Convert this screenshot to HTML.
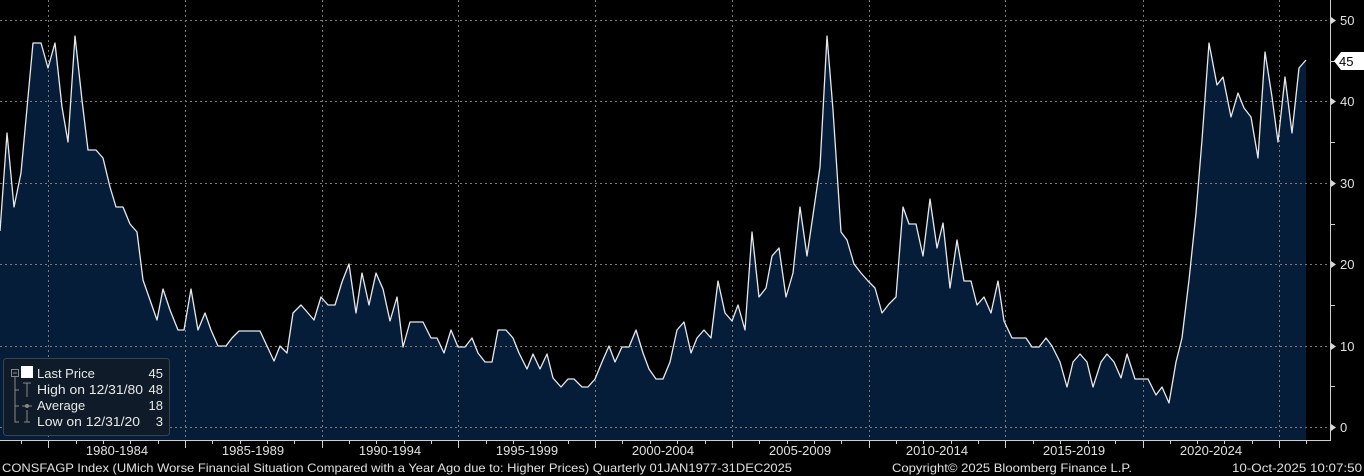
<!DOCTYPE html>
<html><head><meta charset="utf-8"><style>
html,body{margin:0;padding:0;background:#000;width:1364px;height:476px;overflow:hidden}
svg{display:block}
text{font-family:"Liberation Sans","DejaVu Sans",sans-serif}
</style></head><body>
<svg width="1364" height="476" viewBox="0 0 1364 476" xmlns="http://www.w3.org/2000/svg">
<rect width="1364" height="476" fill="#000"/>
<polygon fill="#051d39" points="0,440 0,231 7,133 14,207 21,173 33,43 41,43 48,68 55,43 62,107 68,142 75,36 82,100 88,150 96,150 103,158 110,187 116,207 123,207 130,224 137,232 143,280 150,300 157,320 163,289 170,310 178,330 184,330 191,289 198,330 205,313 211,330 218,346 226,346 232,338 239,331 260,331 267,346 274,361 280,346 287,353 293,313 301,305 308,313 314,320 321,297 328,305 335,305 342,282 349,264 356,313 362,273 369,305 376,273 383,289 390,321 397,297 403,347 410,322 423,322 431,338 437,338 444,353 451,330 458,347 465,347 472,338 478,353 485,362 492,362 498,330 506,330 513,338 519,353 527,369 533,354 540,369 547,354 553,378 561,387 568,379 574,379 582,387 588,387 595,379 602,362 609,346 615,362 622,347 629,347 636,330 643,353 649,369 656,379 663,379 670,362 677,330 684,322 691,353 697,338 704,330 711,338 718,281 725,313 732,321 738,305 745,330 752,232 759,297 766,288 772,256 779,248 786,297 793,273 800,207 807,256 813,215 820,167 827,36 833,110 841,232 847,240 854,264 861,273 868,281 875,288 882,313 889,304 896,297 903,207 909,224 916,224 923,256 930,199 937,248 943,223 950,288 957,240 964,281 971,281 977,305 984,297 991,313 998,281 1004,321 1012,338 1026,338 1032,347 1039,347 1046,338 1052,346 1060,362 1067,387 1073,362 1080,354 1087,362 1093,387 1101,362 1107,354 1114,362 1121,378 1127,354 1135,379 1148,379 1156,395 1162,387 1169,403 1176,362 1182,338 1189,280 1196,213 1202,140 1209,43 1217,85 1223,77 1231,117 1238,93 1244,108 1251,117 1258,158 1265,52 1272,97 1278,142 1285,77 1292,133 1299,68 1306,60 1306,440"/>
<g stroke="#7a7a7a" stroke-width="1" stroke-dasharray="2,3" fill="none">
<line x1="0" y1="20.5" x2="1330" y2="20.5"/><line x1="0" y1="101.5" x2="1330" y2="101.5"/><line x1="0" y1="183.5" x2="1330" y2="183.5"/><line x1="0" y1="264.5" x2="1330" y2="264.5"/><line x1="0" y1="346.5" x2="1330" y2="346.5"/><line x1="0" y1="427.5" x2="1330" y2="427.5"/>
<line x1="48.5" y1="0" x2="48.5" y2="440"/><line x1="185.5" y1="0" x2="185.5" y2="440"/><line x1="322.5" y1="0" x2="322.5" y2="440"/><line x1="458.5" y1="0" x2="458.5" y2="440"/><line x1="595.5" y1="0" x2="595.5" y2="440"/><line x1="732.5" y1="0" x2="732.5" y2="440"/><line x1="869.5" y1="0" x2="869.5" y2="440"/><line x1="1005.5" y1="0" x2="1005.5" y2="440"/><line x1="1143.5" y1="0" x2="1143.5" y2="440"/><line x1="1279.5" y1="0" x2="1279.5" y2="440"/>
</g>
<polyline fill="none" stroke="#e8e8e8" stroke-width="1.3" stroke-linejoin="round" points="0,231 7,133 14,207 21,173 33,43 41,43 48,68 55,43 62,107 68,142 75,36 82,100 88,150 96,150 103,158 110,187 116,207 123,207 130,224 137,232 143,280 150,300 157,320 163,289 170,310 178,330 184,330 191,289 198,330 205,313 211,330 218,346 226,346 232,338 239,331 260,331 267,346 274,361 280,346 287,353 293,313 301,305 308,313 314,320 321,297 328,305 335,305 342,282 349,264 356,313 362,273 369,305 376,273 383,289 390,321 397,297 403,347 410,322 423,322 431,338 437,338 444,353 451,330 458,347 465,347 472,338 478,353 485,362 492,362 498,330 506,330 513,338 519,353 527,369 533,354 540,369 547,354 553,378 561,387 568,379 574,379 582,387 588,387 595,379 602,362 609,346 615,362 622,347 629,347 636,330 643,353 649,369 656,379 663,379 670,362 677,330 684,322 691,353 697,338 704,330 711,338 718,281 725,313 732,321 738,305 745,330 752,232 759,297 766,288 772,256 779,248 786,297 793,273 800,207 807,256 813,215 820,167 827,36 833,110 841,232 847,240 854,264 861,273 868,281 875,288 882,313 889,304 896,297 903,207 909,224 916,224 923,256 930,199 937,248 943,223 950,288 957,240 964,281 971,281 977,305 984,297 991,313 998,281 1004,321 1012,338 1026,338 1032,347 1039,347 1046,338 1052,346 1060,362 1067,387 1073,362 1080,354 1087,362 1093,387 1101,362 1107,354 1114,362 1121,378 1127,354 1135,379 1148,379 1156,395 1162,387 1169,403 1176,362 1182,338 1189,280 1196,213 1202,140 1209,43 1217,85 1223,77 1231,117 1238,93 1244,108 1251,117 1258,158 1265,52 1272,97 1278,142 1285,77 1292,133 1299,68 1306,60"/>
<g stroke="#cfcfcf" stroke-width="1">
<line x1="0" y1="440.5" x2="1331" y2="440.5"/><line x1="1330.5" y1="0" x2="1330.5" y2="441"/>
<path d="M48.5 440V448M185.5 440V448M322.5 440V448M458.5 440V448M595.5 440V448M732.5 440V448M869.5 440V448M1005.5 440V448M1143.5 440V448M1279.5 440V448" />
<path d="M21.5 440V444M76.5 440V444M103.5 440V444M130.5 440V444M158.5 440V444M212.5 440V444M240.5 440V444M267.5 440V444M294.5 440V444M349.5 440V444M376.5 440V444M404.5 440V444M431.5 440V444M486.5 440V444M513.5 440V444M540.5 440V444M568.5 440V444M622.5 440V444M650.5 440V444M677.5 440V444M705.5 440V444M759.5 440V444M787.5 440V444M814.5 440V444M841.5 440V444M896.5 440V444M923.5 440V444M951.5 440V444M978.5 440V444M1033.5 440V444M1060.5 440V444M1088.5 440V444M1115.5 440V444M1170.5 440V444M1197.5 440V444M1224.5 440V444M1252.5 440V444M1306.5 440V444"/>
<path d="M1330 61.5H1335M1330 142.5H1335M1330 224.5H1335M1330 305.5H1335M1330 386.5H1335"/>
</g>
<g fill="#d8d8d8">
<polygon points="1331,17 1336,20.5 1331,24"/><polygon points="1331,98 1336,101.5 1331,105"/><polygon points="1331,180 1336,183.5 1331,187"/><polygon points="1331,261 1336,264.5 1331,268"/><polygon points="1331,343 1336,346.5 1331,350"/><polygon points="1331,424 1336,427.5 1331,431"/>
</g>
<g fill="#e0e0e0" font-size="13">
<text x="1340" y="25">50</text><text x="1340" y="106">40</text><text x="1340" y="188">30</text><text x="1340" y="269">20</text><text x="1340" y="351">10</text><text x="1340" y="432">0</text>
</g>
<polygon points="1334,61 1341,52 1364,52 1364,70 1341,70" fill="#fff"/>
<text x="1339" y="66" font-size="13" fill="#000">45</text>
<g fill="#e0e0e0" font-size="13" text-anchor="middle">
<text x="117" y="455">1980-1984</text><text x="253" y="455">1985-1989</text><text x="390" y="455">1990-1994</text><text x="527" y="455">1995-1999</text><text x="663" y="455">2000-2004</text><text x="800" y="455">2005-2009</text><text x="937" y="455">2010-2014</text><text x="1074" y="455">2015-2019</text><text x="1211" y="455">2020-2024</text>
</g>
<g fill="#e0e0e0" font-size="12">
<text x="2" y="472" textLength="790" lengthAdjust="spacingAndGlyphs">CONSFAGP Index (UMich Worse Financial Situation Compared with a Year Ago due to: Higher Prices) Quarterly 01JAN1977-31DEC2025</text>
<text x="892" y="472" textLength="240" lengthAdjust="spacingAndGlyphs">Copyright© 2025 Bloomberg Finance L.P.</text>
<text x="1232" y="472" textLength="130" lengthAdjust="spacingAndGlyphs">10-Oct-2025 10:07:50</text>
</g>
<rect x="3.5" y="358.5" width="166" height="77" rx="3" fill="#0f1b28" stroke="#3a4450"/>
<g stroke="#888" fill="none" stroke-width="1">
<rect x="11.5" y="369.5" width="7" height="7"/><line x1="13" y1="373" x2="17" y2="373"/>
<path d="M15 377V422H19M15 390H19M15 406H19"/>
<path d="M23 383H31M27 383V397M22 406H32M24 422H30M27 410V422"/>
</g>
<circle cx="27" cy="406" r="2" fill="#888"/>
<rect x="21" y="366" width="12" height="12" fill="#fff"/>
<g fill="#e8e8e8" font-size="13">
<text x="37" y="378">Last Price</text><text x="37" y="394" textLength="106" lengthAdjust="spacingAndGlyphs">High on 12/31/80</text><text x="37" y="410">Average</text><text x="37" y="426" textLength="103" lengthAdjust="spacingAndGlyphs">Low on 12/31/20</text>
</g>
<g fill="#e8e8e8" font-size="13" text-anchor="end">
<text x="163" y="378">45</text><text x="163" y="394">48</text><text x="163" y="410">18</text><text x="163" y="426">3</text>
</g>
</svg>
</body></html>
